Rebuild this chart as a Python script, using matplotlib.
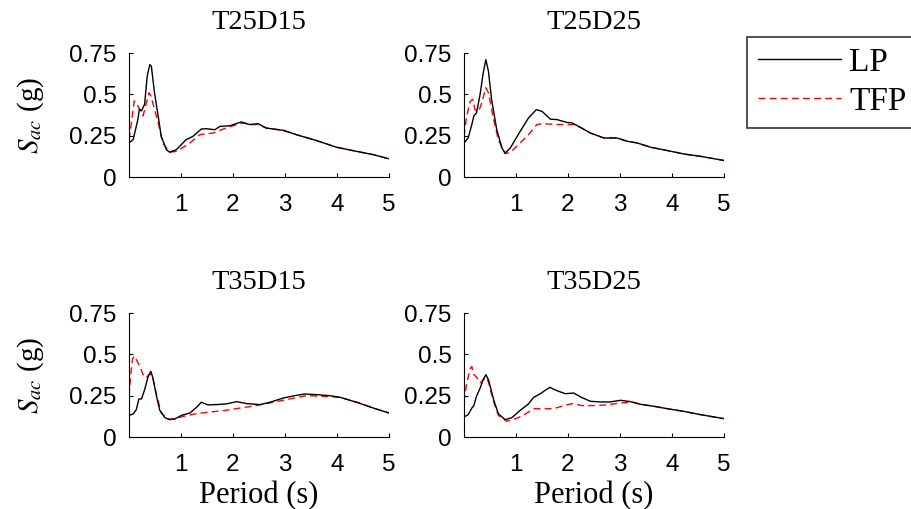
import numpy as np
import matplotlib
matplotlib.use("Agg")
import matplotlib.pyplot as plt

# Spectral acceleration (period in s, Sac in g)
# T25D15
p1_lp_T = [0.0, 0.08, 0.17, 0.20, 0.24, 0.30, 0.35, 0.40, 0.43, 0.49, 0.56, 0.62, 0.72, 0.78, 0.91,
           1.10, 1.23, 1.39, 1.49, 1.65, 1.75, 1.94, 2.16, 2.32, 2.48, 2.64, 2.97, 3.22, 3.61, 3.99,
           4.38, 4.70, 5.0]
p1_lp_S = [0.206, 0.226, 0.347, 0.41, 0.40, 0.44, 0.61, 0.68, 0.67, 0.51, 0.37, 0.246, 0.165, 0.15, 0.165,
           0.226, 0.246, 0.29, 0.292, 0.286, 0.306, 0.31, 0.333, 0.317, 0.323, 0.296, 0.282, 0.256, 0.22, 0.18,
           0.155, 0.135, 0.11]
p1_tfp_T = [0.0, 0.045, 0.10, 0.14, 0.20, 0.27, 0.32, 0.385, 0.42, 0.49, 0.56, 0.65, 0.78, 0.91, 1.07,
            1.17, 1.36, 1.62, 1.81, 2.0, 2.2, 2.32, 2.48, 2.64, 2.97, 3.22, 3.61, 3.99, 4.38, 4.70, 5.0]
p1_tfp_S = [0.226, 0.327, 0.46, 0.45, 0.41, 0.37, 0.43, 0.51, 0.49, 0.41, 0.33, 0.205, 0.15, 0.155, 0.185,
            0.205, 0.256, 0.266, 0.29, 0.31, 0.327, 0.317, 0.317, 0.296, 0.282, 0.256, 0.22, 0.18, 0.155, 0.135, 0.11]

# T25D25
p2_lp_T = [0.0, 0.08, 0.15, 0.19, 0.24, 0.31, 0.37, 0.42, 0.47, 0.53, 0.63, 0.73, 0.79, 0.89, 1.08,
           1.24, 1.39, 1.50, 1.66, 1.79, 1.98, 2.08, 2.24, 2.43, 2.69, 2.94, 3.14, 3.33, 3.59, 3.91,
           4.23, 4.55, 5.0]
p2_lp_S = [0.206, 0.236, 0.317, 0.37, 0.387, 0.50, 0.63, 0.71, 0.64, 0.47, 0.286, 0.175, 0.145, 0.175, 0.276,
           0.357, 0.407, 0.397, 0.35, 0.347, 0.33, 0.327, 0.30, 0.266, 0.236, 0.236, 0.216, 0.206, 0.18, 0.16,
           0.139, 0.125, 0.10]
p2_tfp_T = [0.0, 0.05, 0.12, 0.17, 0.21, 0.28, 0.34, 0.42, 0.47, 0.57, 0.66, 0.79, 0.89, 1.08, 1.24,
            1.40, 1.53, 1.79, 2.11, 2.24, 2.43, 2.69, 2.94, 3.14, 3.33, 3.59, 3.91, 4.23, 4.55, 5.0]
p2_tfp_S = [0.246, 0.367, 0.458, 0.47, 0.407, 0.397, 0.447, 0.54, 0.51, 0.347, 0.226, 0.141, 0.149, 0.206, 0.256,
            0.317, 0.323, 0.317, 0.317, 0.30, 0.266, 0.236, 0.236, 0.216, 0.206, 0.18, 0.16, 0.139, 0.125, 0.10]

# T35D15
p3_lp_T = [0.0, 0.077, 0.14, 0.19, 0.24, 0.30, 0.37, 0.42, 0.46, 0.53, 0.59, 0.69, 0.78, 0.88, 1.01,
           1.17, 1.30, 1.39, 1.52, 1.68, 1.87, 2.07, 2.26, 2.52, 2.71, 2.97, 3.22, 3.38, 3.61, 3.86,
           4.06, 4.38, 4.70, 5.0]
p3_lp_S = [0.131, 0.139, 0.165, 0.23, 0.23, 0.286, 0.367, 0.397, 0.357, 0.246, 0.163, 0.117, 0.105, 0.109, 0.131,
           0.145, 0.18, 0.21, 0.194, 0.196, 0.20, 0.214, 0.202, 0.196, 0.21, 0.236, 0.252, 0.26, 0.256, 0.25,
           0.24, 0.21, 0.175, 0.145]
p3_tfp_T = [0.0, 0.026, 0.064, 0.10, 0.14, 0.21, 0.27, 0.33, 0.40, 0.45, 0.53, 0.62, 0.75, 0.88, 1.04,
            1.30, 1.49, 1.81, 2.13, 2.45, 2.77, 3.09, 3.41, 3.74, 4.06, 4.38, 4.70, 5.0]
p3_tfp_S = [0.246, 0.347, 0.468, 0.49, 0.468, 0.427, 0.377, 0.357, 0.383, 0.367, 0.256, 0.145, 0.109, 0.109, 0.125,
            0.141, 0.149, 0.159, 0.175, 0.19, 0.21, 0.23, 0.25, 0.246, 0.24, 0.21, 0.175, 0.145]

# T35D25
p4_lp_T = [0.0, 0.08, 0.15, 0.19, 0.24, 0.31, 0.37, 0.42, 0.47, 0.57, 0.66, 0.79, 0.92, 1.08, 1.24,
           1.34, 1.47, 1.56, 1.65, 1.79, 1.95, 2.11, 2.27, 2.43, 2.62, 2.81, 3.01, 3.20, 3.39, 3.65,
           3.91, 4.23, 4.55, 5.0]
p4_lp_S = [0.121, 0.135, 0.175, 0.19, 0.246, 0.296, 0.347, 0.377, 0.347, 0.226, 0.141, 0.105, 0.117, 0.161, 0.20,
           0.24, 0.262, 0.282, 0.30, 0.28, 0.262, 0.266, 0.238, 0.216, 0.212, 0.212, 0.222, 0.214, 0.198, 0.186,
           0.171, 0.155, 0.135, 0.111]
p4_tfp_T = [0.0, 0.05, 0.12, 0.15, 0.19, 0.24, 0.31, 0.37, 0.42, 0.47, 0.57, 0.66, 0.82, 0.95, 1.14,
            1.34, 1.53, 1.72, 1.92, 2.08, 2.27, 2.49, 2.75, 3.01, 3.26, 3.39, 3.65, 3.91, 4.23, 4.55, 5.0]
p4_tfp_S = [0.212, 0.323, 0.413, 0.427, 0.377, 0.363, 0.327, 0.347, 0.363, 0.333, 0.212, 0.131, 0.095, 0.105, 0.131,
            0.171, 0.171, 0.171, 0.19, 0.202, 0.19, 0.19, 0.194, 0.206, 0.21, 0.198, 0.186, 0.171, 0.155, 0.135, 0.111]

titles = ["T25D15", "T25D25", "T35D15", "T35D25"]
panels = [(p1_lp_T, p1_lp_S, p1_tfp_T, p1_tfp_S),
          (p2_lp_T, p2_lp_S, p2_tfp_T, p2_tfp_S),
          (p3_lp_T, p3_lp_S, p3_tfp_T, p3_tfp_S),
          (p4_lp_T, p4_lp_S, p4_tfp_T, p4_tfp_S)]

yticks = [0, 0.25, 0.5, 0.75]
ytick_labels = ["0", "0.25", "0.5", "0.75"]
xticks = [1, 2, 3, 4, 5]

plt.rcParams['mathtext.fontset'] = 'stix'
serif = 'Liberation Serif'
sans = 'Liberation Sans'

W, H = 912, 509
fig = plt.figure(figsize=(W / 100, H / 100), dpi=100)

# axes boxes in pixels: left, top of y=0.75, width, height
boxes = [(129, 53), (464, 53), (129, 313), (464, 313)]
aw, ah = 260, 124

for i, (bx, by) in enumerate(boxes):
    ax = fig.add_axes([bx / W, 1 - (by + ah) / H, aw / W, ah / H])
    lpT, lpS, tfT, tfS = panels[i]
    ax.plot(tfT, tfS, color='red', lw=1.0, dashes=(5, 3))
    ax.plot(lpT, lpS, color='black', lw=1.0)
    ax.set_xlim(0, 5)
    ax.set_ylim(0, 0.75)
    ax.set_xticks(xticks)
    ax.set_yticks(yticks)
    ax.set_yticklabels(ytick_labels)
    ax.spines['top'].set_visible(False)
    ax.spines['right'].set_visible(False)
    for s in ['left', 'bottom']:
        ax.spines[s].set_linewidth(0.8)
    ax.tick_params(direction='in', length=3, width=0.8, labelsize=17.5)
    ax.tick_params(axis='x', pad=12)
    ax.tick_params(axis='y', pad=9)
    for lab in ax.get_xticklabels() + ax.get_yticklabels():
        lab.set_fontfamily(sans)
    ax.set_title(titles[i], fontsize=20.5, family=serif, pad=17)
    if i % 2 == 0:
        ax.set_ylabel(r'$S_{ac}$ (g)', fontsize=21, family=serif, labelpad=17)
    if i >= 2:
        ax.set_xlabel('Period (s)', fontsize=22, family=serif, labelpad=4)

h_lp, = plt.plot([], [], color='black', lw=1.0)
h_tfp, = plt.plot([], [], color='red', lw=1.0, dashes=(5, 3))
leg = fig.legend([h_lp, h_tfp], ['LP', 'TFP'], loc='upper left',
                 bbox_to_anchor=(747 / W, 1 - 37 / H), prop={'family': serif, 'size': 24},
                 frameon=True, fancybox=False, shadow=False, borderpad=0.32,
                 labelspacing=0.25, handlelength=2.5, handletextpad=0.25, borderaxespad=0)
leg.get_frame().set_edgecolor('black')
leg.get_frame().set_linewidth(1.2)

fig.savefig('out.png', dpi=100)
